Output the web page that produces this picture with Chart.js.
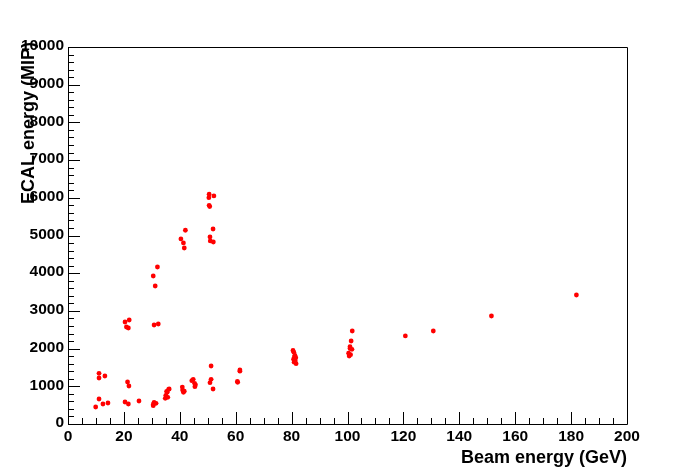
<!DOCTYPE html>
<html>
<head>
<meta charset="utf-8">
<script src="https://cdn.jsdelivr.net/npm/chart.js@4/dist/chart.umd.min.js"></script>
<style>
    html, body { margin: 0; padding: 0; background: #fff; }
    #wrap { width: 696px; height: 472px; }
</style>
</head>
<body>
<div id="wrap"><canvas id="ecalChart" width="696" height="472"></canvas></div>
<script>
// beam energy (GeV) and ECAL energy (MIP)
const beamEnergy = [
    9.9, 11.1, 11.1, 11.1, 13.2, 12.5, 14.3,
    21.3, 21.8, 20.4, 21.6, 20.4, 21.9, 20.9, 21.6, 25.4,
    30.8, 30.5, 31.5, 30.5, 32.0, 30.5, 31.2, 30.8, 32.3,
    34.8, 35.5, 36.0, 35.3, 35.7, 36.2, 35.0,
    42.0, 40.4, 41.3, 41.6, 40.9, 41.3, 41.6, 41.0,
    44.8, 45.3, 45.4, 44.3, 45.6,
    50.5, 50.4, 52.2, 50.7, 50.5, 51.9, 50.8, 50.9, 52.0, 51.2, 51.2, 50.8, 51.9,
    60.7, 60.6, 61.5, 61.5,
    80.5, 80.8, 81.2, 81.5, 80.7, 81.3, 80.9, 81.6, 81.0,
    101.7, 101.3, 100.9, 101.6, 100.4, 101.1, 100.6, 100.9,
    120.7, 130.7, 151.5, 181.9
];
const ecalEnergy = [
    451, 663, 1220, 1345, 1273, 530, 557,
    1114, 1008, 584, 530, 2706, 2759, 2573, 2547, 610,
    575, 486, 549, 520, 4165, 3926, 3661, 2626, 2653,
    681, 841, 920, 867, 708, 929, 760,
    5139, 4908, 4802, 4669, 980, 841, 870, 900,
    1186, 1080, 990, 1150, 1040,
    6094, 6004, 6049, 5766, 5800, 5173, 4961, 4855, 4828, 1539, 1186, 1096, 929,
    1106, 1130, 1432, 1400,
    1950, 1900, 1820, 1760, 1720, 1680, 1640, 1600, 1780,
    2467, 2202, 2051, 1982, 1876, 1838, 1804, 2000,
    2335, 2467, 2865, 3422
];
const xTickLabels = [0, 20, 40, 60, 80, 100, 120, 140, 160, 180, 200];
const yTickLabels = [0, 1000, 2000, 3000, 4000, 5000, 6000, 7000, 8000, 9000, 10000];
const xTitle = 'Beam energy (GeV)';
const yTitle = 'ECAL energy (MIP)';

const points = beamEnergy.map((x, i) => ({ x: x, y: ecalEnergy[i] }));

// ROOT style frame: inner ticks, bold labels
const rootAxes = {
    id: 'rootAxes',
    afterDraw(chart) {
        const c = chart.ctx;
        const xs = chart.scales.x, ys = chart.scales.y;
        const a = chart.chartArea;
        c.save();
        c.strokeStyle = '#000';
        c.lineWidth = 1;
        c.beginPath();
        c.rect(Math.round(a.left) + 0.5, Math.round(a.top) + 0.5,
               Math.round(a.right - a.left), Math.round(a.bottom - a.top));
        c.stroke();

        c.beginPath();
        // x ticks every 5 GeV
        for (let v = 0; v <= 200; v += 5) {
            const px = Math.round(xs.getPixelForValue(v)) + 0.5;
            const len = (v % 20 === 0) ? 12 : 6;
            c.moveTo(px, a.bottom);
            c.lineTo(px, a.bottom - len);
        }
        // y ticks every 200 MIP
        for (let v = 0; v <= 10000; v += 200) {
            const py = Math.round(ys.getPixelForValue(v)) + 0.5;
            const len = (v % 1000 === 0) ? 12 : 6;
            c.moveTo(a.left, py);
            c.lineTo(a.left + len, py);
        }
        c.stroke();

        c.fillStyle = '#000';
        c.font = 'bold 15.5px "Liberation Sans", Arial, sans-serif';
        c.textAlign = 'center';
        c.textBaseline = 'top';
        xTickLabels.forEach(v => {
            c.fillText(String(v), xs.getPixelForValue(v), a.bottom + 5);
        });
        c.textAlign = 'right';
        c.textBaseline = 'middle';
        yTickLabels.forEach(v => {
            c.fillText(String(v), a.left - 4, ys.getPixelForValue(v) - 1);
        });

        c.font = 'bold 18px "Liberation Sans", Arial, sans-serif';
        c.textAlign = 'right';
        c.textBaseline = 'alphabetic';
        c.fillText(xTitle, a.right, 463);

        c.translate(34, a.top - 5);
        c.rotate(-Math.PI / 2);
        c.textAlign = 'right';
        c.fillText(yTitle, 0, 0);
        c.restore();
    }
};

new Chart(document.getElementById('ecalChart'), {
    type: 'scatter',
    data: {
        datasets: [{
            data: points,
            backgroundColor: '#ff0000',
            borderColor: '#ff0000',
            pointRadius: 2.4,
            pointBorderWidth: 0
        }]
    },
    options: {
        responsive: false,
        animation: false,
        devicePixelRatio: 1,
        layout: { padding: { left: 68, top: 47, right: 69, bottom: 48 } },
        plugins: { legend: { display: false }, tooltip: { enabled: false } },
        scales: {
            x: { type: 'linear', min: 0, max: 200, display: false },
            y: { type: 'linear', min: 0, max: 10000, display: false }
        }
    },
    plugins: [rootAxes]
});
</script>
</body>
</html>
